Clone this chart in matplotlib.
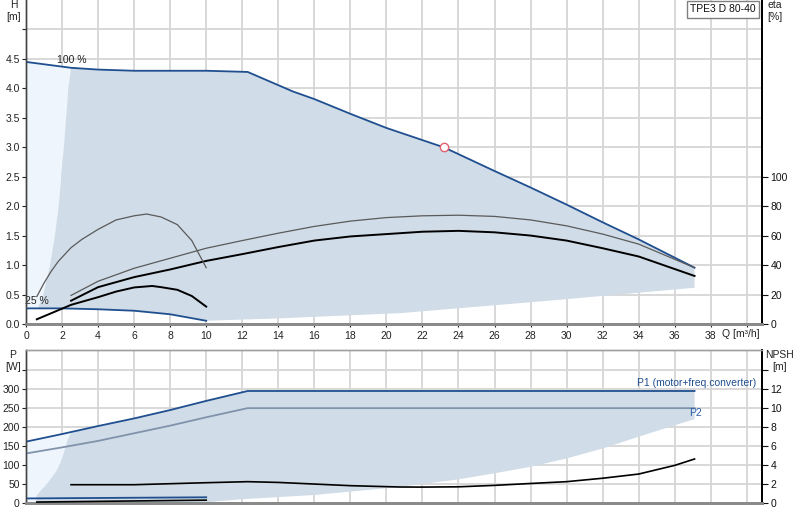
import matplotlib
matplotlib.use("Agg")
import matplotlib.pyplot as plt
import numpy as np

plt.rcParams['font.family'] = ['Liberation Sans', 'DejaVu Sans']
FS = 7.5

# ---------------- data: head chart ----------------
q_max = [0, 2.5, 4, 6, 8, 10, 12.3, 14.8, 16, 18, 20, 23.2, 26, 28, 30, 32, 34, 37.1]
h_max = [4.45, 4.35, 4.32, 4.30, 4.30, 4.30, 4.28, 3.95, 3.82, 3.57, 3.33, 3.00, 2.60, 2.32, 2.03, 1.73, 1.44, 0.96]

q_min = [0, 2, 4, 6, 8, 10]
h_min = [0.27, 0.27, 0.255, 0.23, 0.17, 0.06]

q_fill_left = [0.65, 0.96, 1.33, 1.6, 1.81, 2.1, 2.35, 2.5]
h_fill_left = [0.27, 0.5, 1.0, 1.5, 2.0, 3.0, 4.0, 4.35]
q_fill_low = [10, 14, 20.8, 29, 37.1]
h_fill_low = [0.06, 0.10, 0.19, 0.40, 0.62]

q_duty = [23.2]
h_duty = [3.0]

# efficiency curves [%]
q_eta_a = [2.5, 4, 6, 8, 10, 12, 14, 16, 18, 20, 22, 24, 26, 28, 30, 32, 34, 37.1]
eta_a = [19.6, 29.2, 38, 44.8, 51.6, 56.8, 61.8, 66.4, 70, 72.4, 73.6, 74, 73.2, 70.8, 66.8, 61.2, 54.4, 38.4]
q_eta_b = [2.5, 4, 6, 8, 10, 12, 14, 16, 18, 20, 22, 24, 26, 28, 30, 32, 34, 37.1]
eta_b = [16, 25.2, 32, 37.2, 43, 47.6, 52.4, 56.8, 59.6, 61.2, 62.8, 63.4, 62.4, 60.2, 56.8, 51.6, 46, 32.8]
q_eta_c = [0.6, 1.0, 1.4, 1.8, 2.5, 3.1, 4, 5, 6, 6.7, 7.5, 8.4, 9.2, 9.67, 10]
eta_c = [18.8, 28, 36, 42.8, 52, 57.6, 64.4, 70.8, 73.6, 74.8, 72.8, 67.6, 56.8, 46, 38.4]
q_eta_d = [0.6, 2, 2.5, 4, 5, 6, 7, 7.5, 8.4, 9.2, 10]
eta_d = [3.4, 10.6, 13.2, 18.4, 22.2, 25, 26, 25.2, 23.4, 19.2, 12]

# ---------------- data: power / NPSH chart ----------------
q_p1 = [0, 2, 4, 6, 8, 10, 12.3, 37.1]
p1 = [161, 181, 202, 222, 244, 268, 294, 294]
q_p2 = [0, 2, 4, 6, 8, 10, 12.3, 37.1]
p2 = [130, 146, 163, 183, 203, 225, 249, 249]
q_p1_min = [0, 10]
p1_min = [12, 15]
q_npsh_min = [0.6, 10]
npsh_min = [0.10, 0.30]

q_pfill_left = [0.55, 0.6, 1.2, 1.7, 2.0, 2.3, 2.5]
p_fill_left = [0, 21, 52, 85, 115, 165, 184]
q_pfill_low = [10, 12, 16, 20.7, 22, 24, 26, 28, 30, 32, 34, 36, 37.1]
p_fill_low = [2, 10, 21, 42, 50, 62, 78, 95, 117, 143, 174, 204, 220]

q_npsh = [2.5, 6, 10, 12.3, 14, 16, 18, 20.7, 22, 24, 26, 28, 30, 32, 34, 36, 37.1]
npsh = [1.92, 1.92, 2.13, 2.24, 2.16, 1.99, 1.82, 1.68, 1.67, 1.70, 1.85, 2.05, 2.24, 2.6, 3.04, 3.95, 4.62]

q_ticks = list(range(0, 40, 2))

# ---------------- colours ----------------
C_FILL = '#d0dce7'
C_LIGHT = '#eef5fd'
C_BLUE = '#1f4f8f'
C_P2 = '#8193ab'
C_GRID = '#d6d6d6'
C_GRAY = '#5a5a5a'

W, H = 800, 520
fig = plt.figure(figsize=(8, 5.2), dpi=100)

def fx(px):
    return px / W

def fy(py):
    return 1 - py / H

XMAX = 40.86
left, right = 26, 762.3
ax1 = fig.add_axes([fx(left), fy(324.3), fx(right - left), 324.3 / H])
ax2 = fig.add_axes([fx(left), fy(503), fx(right - left), 153 / H])

# ------------- top chart -------------
ax1.set_xlim(0, XMAX)
ax1.set_ylim(0, 5.5)

# light region
lq = [0, 0] + q_fill_left[::-1]
lh = [h_min[0], h_max[0]] + h_fill_left[::-1]
ax1.fill(lq, lh, color=C_LIGHT, lw=0, zorder=1)

# main region
mq = list(q_fill_left)
mh = list(h_fill_left)
for q, h in zip(q_max, h_max):
    if q > q_fill_left[-1]:
        mq.append(q); mh.append(h)
for q, h in zip(q_fill_low[::-1], h_fill_low[::-1]):
    mq.append(q); mh.append(h)
for q, h in zip(q_min[::-1], h_min[::-1]):
    if q_fill_left[0] < q < q_fill_low[0]:
        mq.append(q); mh.append(h)
ax1.fill(mq, mh, color=C_FILL, lw=0, zorder=1)

ax1.plot(q_max, h_max, color=C_BLUE, lw=1.3, zorder=4)
ax1.plot(q_min, h_min, color=C_BLUE, lw=1.3, zorder=4)
ax1.plot(q_duty, h_duty, 'o', mfc='white', mec='#e06070', ms=6, mew=1, zorder=6)

ax1r = ax1.twinx()
ax1r.set_ylim(0, 5.5 * 40)
ax1r.plot(q_eta_a, eta_a, color=C_GRAY, lw=0.9, zorder=4)
ax1r.plot(q_eta_b, eta_b, color='black', lw=1.4, zorder=4)
ax1r.plot(q_eta_c, eta_c, color=C_GRAY, lw=0.9, zorder=4)
ax1r.plot(q_eta_d, eta_d, color='black', lw=1.4, zorder=4)

ax1.set_xticks(q_ticks + [40])
ax1.set_xticklabels([str(t) for t in q_ticks] + [''])
ax1.set_yticks(np.arange(0, 5.01, 0.5))
ax1.set_yticklabels([f'{v:.1f}' for v in np.arange(0, 4.51, 0.5)] + [''])
ax1.grid(True, color=C_GRID, lw=1.3, zorder=0)
ax1.set_axisbelow(True)
ax1.tick_params(axis='x', length=2, pad=3, labelsize=FS, colors='#222222')
ax1.tick_params(axis='y', length=3, pad=1.5, labelsize=FS, colors='#222222')
ax1r.set_yticks(range(0, 101, 20))
ax1r.tick_params(axis='y', length=4, pad=2, labelsize=FS, colors='#111111')

for a in (ax1, ax1r):
    a.spines['top'].set_visible(False)
    a.spines['left'].set_color('#444444')
    a.spines['left'].set_linewidth(1.0)
    a.spines['bottom'].set_color('#8a8a8a')
    a.spines['bottom'].set_linewidth(2.0)
    a.spines['right'].set_color('black')
    a.spines['right'].set_linewidth(1.3)

ax1.text(1.72, 4.49, '100 %', fontsize=FS, va='center', ha='left', color='#222222', zorder=7)
ax1.text(-0.06, 0.40, '25 %', fontsize=FS, va='center', ha='left', color='#222222', zorder=7)

# ------------- bottom chart -------------
PMAX = 401.6
ax2.set_xlim(0, XMAX)
ax2.set_ylim(0, PMAX)

blq = [0, 0] + q_pfill_left[::-1]
blp = [0, p1[0]] + p_fill_left[::-1]
ax2.fill(blq, blp, color=C_LIGHT, lw=0, zorder=1)

bq = list(q_pfill_left)
bp = list(p_fill_left)
for q, p in zip(q_p1, p1):
    if q > q_pfill_left[-1]:
        bq.append(q); bp.append(p)
for q, p in zip(q_pfill_low[::-1], p_fill_low[::-1]):
    bq.append(q); bp.append(p)
ax2.fill(bq, bp, color=C_FILL, lw=0, zorder=1)

ax2.plot(q_p1, p1, color=C_BLUE, lw=1.3, zorder=4)
ax2.plot(q_p2, p2, color=C_P2, lw=1.3, zorder=4)
ax2.plot(q_p1_min, p1_min, color=C_BLUE, lw=1.3, zorder=4)

ax2r = ax2.twinx()
ax2r.set_ylim(0, PMAX / 25)
ax2r.plot(q_npsh, npsh, color='black', lw=1.2, zorder=4)
ax2r.plot(q_npsh_min, npsh_min, color='black', lw=1.2, zorder=4)

ax2.set_xticks(q_ticks + [40])
ax2.set_xticklabels([])
ax2.set_yticks(range(0, 351, 50))
ax2.set_yticklabels([str(v) for v in range(0, 301, 50)] + [''])
ax2.grid(True, color=C_GRID, lw=1.3, zorder=0)
ax2.set_axisbelow(True)
ax2.tick_params(axis='x', length=0)
ax2.tick_params(axis='y', length=3, pad=1.5, labelsize=FS, colors='#222222')
ax2r.set_yticks(range(0, 15, 2))
ax2r.set_yticklabels([str(v) for v in range(0, 13, 2)] + [''])
ax2r.tick_params(axis='y', length=4, pad=2, labelsize=FS, colors='#111111')

for a in (ax2, ax2r):
    a.spines['top'].set_color('#a0a0a0')
    a.spines['top'].set_linewidth(1.0)
    a.spines['left'].set_color('#444444')
    a.spines['left'].set_linewidth(1.0)
    a.spines['bottom'].set_color('#8a8a8a')
    a.spines['bottom'].set_linewidth(2.0)
    a.spines['right'].set_color('black')
    a.spines['right'].set_linewidth(1.3)

ax2.text(33.9, 315, 'P1 (motor+freq.converter)', fontsize=FS, color=C_BLUE,
         va='center', ha='left', zorder=7)
ax2.text(36.8, 236, 'P2', fontsize=FS, color='#2a5ca8', va='center', ha='left', zorder=7)

# ------------- axis captions -------------
fig.text(fx(14), fy(5), 'H', fontsize=FS, ha='center', va='center', color='#222222')
fig.text(fx(14), fy(17), '[m]', fontsize=FS, ha='center', va='center', color='#222222')
fig.text(fx(775), fy(5), 'eta', fontsize=FS, ha='center', va='center', color='#222222')
fig.text(fx(775), fy(17), '[%]', fontsize=FS, ha='center', va='center', color='#222222')
fig.text(fx(13), fy(355), 'P', fontsize=FS, ha='center', va='center', color='#222222')
fig.text(fx(13), fy(367), '[W]', fontsize=FS, ha='center', va='center', color='#222222')
fig.text(fx(780), fy(355), 'NPSH', fontsize=FS, ha='center', va='center', color='#222222')
fig.text(fx(780), fy(367), '[m]', fontsize=FS, ha='center', va='center', color='#222222')
fig.text(fx(722), fy(334), 'Q [m³/h]', fontsize=FS, ha='left', va='center', color='#222222')

fig.text(fx(756), fy(9.5), 'TPE3 D 80-40', fontsize=FS, ha='right', va='center', color='#111111',
         bbox=dict(boxstyle='square,pad=0.3', fc='white', ec='#808080', lw=1.0))

fig.savefig('out.png', dpi=100)
